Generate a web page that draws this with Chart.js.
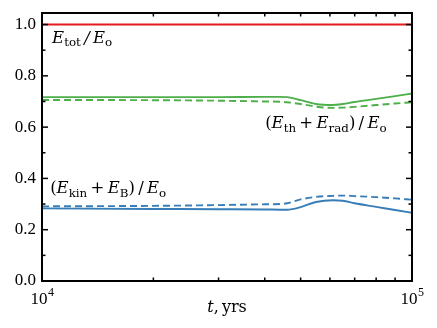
<!DOCTYPE html>
<html>
<head>
<meta charset="utf-8">
<script src="https://cdn.jsdelivr.net/npm/chart.js@4/dist/chart.umd.min.js"></script>
<style>
  body { margin: 0; background: #fff; }
  canvas { display: block; }
</style>
</head>
<body>
<canvas id="chart" width="437" height="328"></canvas>
<script>
// time in years (log axis)
const years = [10000, 20000, 30000, 40000, 44000, 46000, 50000, 55000, 61000, 65000, 70000, 80000, 90000, 100000];

// energy fractions
const totalE = [1.0, 1.0, 1.0, 1.0, 1.0, 1.0, 1.0, 1.0, 1.0, 1.0, 1.0, 1.0, 1.0, 1.0];
const thermSolid = [0.717, 0.717, 0.717, 0.718, 0.718, 0.717, 0.705, 0.690, 0.686, 0.690, 0.698, 0.710, 0.721, 0.731];
const thermDashed = [0.706, 0.705, 0.703, 0.700, 0.699, 0.697, 0.690, 0.680, 0.675, 0.676, 0.679, 0.686, 0.692, 0.697];
const kinSolid = [0.283, 0.281, 0.280, 0.279, 0.278, 0.278, 0.288, 0.308, 0.315, 0.313, 0.303, 0.289, 0.277, 0.266];
const kinDashed = [0.291, 0.293, 0.296, 0.299, 0.300, 0.303, 0.318, 0.328, 0.332, 0.333, 0.331, 0.327, 0.322, 0.317];

const yMajor = [0, 0.2, 0.4, 0.6, 0.8, 1.0];
const yMinor = [0.1, 0.3, 0.5, 0.7, 0.9];
const xMinor = [20000, 30000, 40000, 50000, 60000, 70000, 80000, 90000];
const xLabels = [[10000, '4'], [100000, '5']];

// [t, y, parts] ; parts: [text, kind] kind r=roman i=italic s=subscript
const notes = [
  [10650, 0.929, [['E', 'i'], ['tot', 's'], [' / ', 'i'], ['E', 'i'], ['o', 's']]],
  [40100, 0.596, [['(', 'r'], ['E', 'i'], ['th', 's'], [' + ', 'r'], ['E', 'i'], ['rad', 's'], [') / ', 'r'], ['E', 'i'], ['o', 's']]],
  [10520, 0.342, [['(', 'r'], ['E', 'i'], ['kin', 's'], [' + ', 'r'], ['E', 'i'], ['B', 's'], [') / ', 'r'], ['E', 'i'], ['o', 's']]]
];

const TICKFONT = "'Liberation Serif', serif";
const MATHFONT = "'DejaVu Serif', serif";

const pts = (vals) => years.map((t, i) => ({ x: t, y: vals[i] }));

const mathText = (ctx, x, y, parts, size) => {
  parts.forEach(([s, kind]) => {
    const sub = kind === 's';
    const fs = sub ? size * 0.72 : size;
    ctx.font = (kind === 'i' ? 'italic ' : '') + fs + 'px ' + MATHFONT;
    // the spaces around operators are thinner in TeX
    const txt = s.replace(/ /g, '\u2009');
    ctx.fillText(txt, x, y + (sub ? size * 0.22 : 0));
    x += ctx.measureText(txt).width;
  });
  return x;
};

const frame = {
  id: 'frame',
  afterDraw(chart) {
    const { ctx, chartArea: a, scales: { x, y } } = chart;
    ctx.save();
    ctx.strokeStyle = '#000';
    ctx.fillStyle = '#000';

    // inward ticks
    ctx.lineWidth = 1.5;
    const tick = (x1, y1, x2, y2) => { ctx.beginPath(); ctx.moveTo(x1, y1); ctx.lineTo(x2, y2); ctx.stroke(); };
    yMajor.forEach(v => {
      const py = y.getPixelForValue(v);
      tick(a.left, py, a.left + 6, py);
      tick(a.right, py, a.right - 6, py);
    });
    yMinor.forEach(v => {
      const py = y.getPixelForValue(v);
      tick(a.left, py, a.left + 3.5, py);
      tick(a.right, py, a.right - 3.5, py);
    });
    xMinor.forEach(v => {
      const px = x.getPixelForValue(v);
      tick(px, a.bottom, px, a.bottom - 3.5);
      tick(px, a.top, px, a.top + 3.5);
    });

    ctx.lineWidth = 2;
    ctx.strokeRect(a.left, a.top, a.right - a.left, a.bottom - a.top);

    // tick labels
    ctx.font = '17px ' + TICKFONT;
    ctx.textAlign = 'right';
    ctx.textBaseline = 'middle';
    yMajor.forEach(v => ctx.fillText(v.toFixed(1), a.left - 6, y.getPixelForValue(v)));

    ctx.textBaseline = 'alphabetic';
    ctx.textAlign = 'left';
    xLabels.forEach(([v, e]) => {
      const px = x.getPixelForValue(v);
      ctx.font = '17px ' + TICKFONT;
      const w1 = ctx.measureText('10').width;
      ctx.font = '12px ' + TICKFONT;
      const w2 = ctx.measureText(e).width;
      const x0 = px - (w1 + w2) / 2;
      ctx.font = '17px ' + TICKFONT;
      ctx.fillText('10', x0, a.bottom + 23);
      ctx.font = '12px ' + TICKFONT;
      ctx.fillText(e, x0 + w1 + 0.5, a.bottom + 15);
    });

    // axis title
    const parts = [['t', 'i'], [', yrs', 'r']];
    let w = 0;
    parts.forEach(([s, k]) => { ctx.font = (k === 'i' ? 'italic ' : '') + '16px ' + MATHFONT; w += ctx.measureText(s.replace(/ /g, '\u2009')).width; });
    mathText(ctx, (a.left + a.right) / 2 - w / 2, 312, parts, 16);

    // curve labels
    notes.forEach(([t, v, p]) => mathText(ctx, x.getPixelForValue(t), y.getPixelForValue(v), p, 16.5));
    ctx.restore();
  }
};

const RED = '#e41a1c', GREEN = '#4daf4a', BLUE = '#377eb8';

new Chart(document.getElementById('chart'), {
  type: 'line',
  data: {
    datasets: [
      { data: pts(totalE), borderColor: RED, borderWidth: 1.9 },
      { data: pts(thermSolid), borderColor: GREEN, borderWidth: 1.9 },
      { data: pts(thermDashed), borderColor: GREEN, borderWidth: 1.9, borderDash: [7, 4] },
      { data: pts(kinSolid), borderColor: BLUE, borderWidth: 1.9 },
      { data: pts(kinDashed), borderColor: BLUE, borderWidth: 1.9, borderDash: [7, 4] }
    ]
  },
  options: {
    responsive: false,
    animation: false,
    layout: { padding: { left: 42, right: 25, top: 13, bottom: 47 } },
    elements: { point: { radius: 0 }, line: { cubicInterpolationMode: 'monotone', fill: false } },
    plugins: { legend: { display: false }, tooltip: { enabled: false } },
    scales: {
      x: { type: 'logarithmic', min: 10000, max: 100000, display: false },
      y: { type: 'linear', min: 0, max: 1.045, display: false }
    }
  },
  plugins: [frame]
});
</script>
</body>
</html>
